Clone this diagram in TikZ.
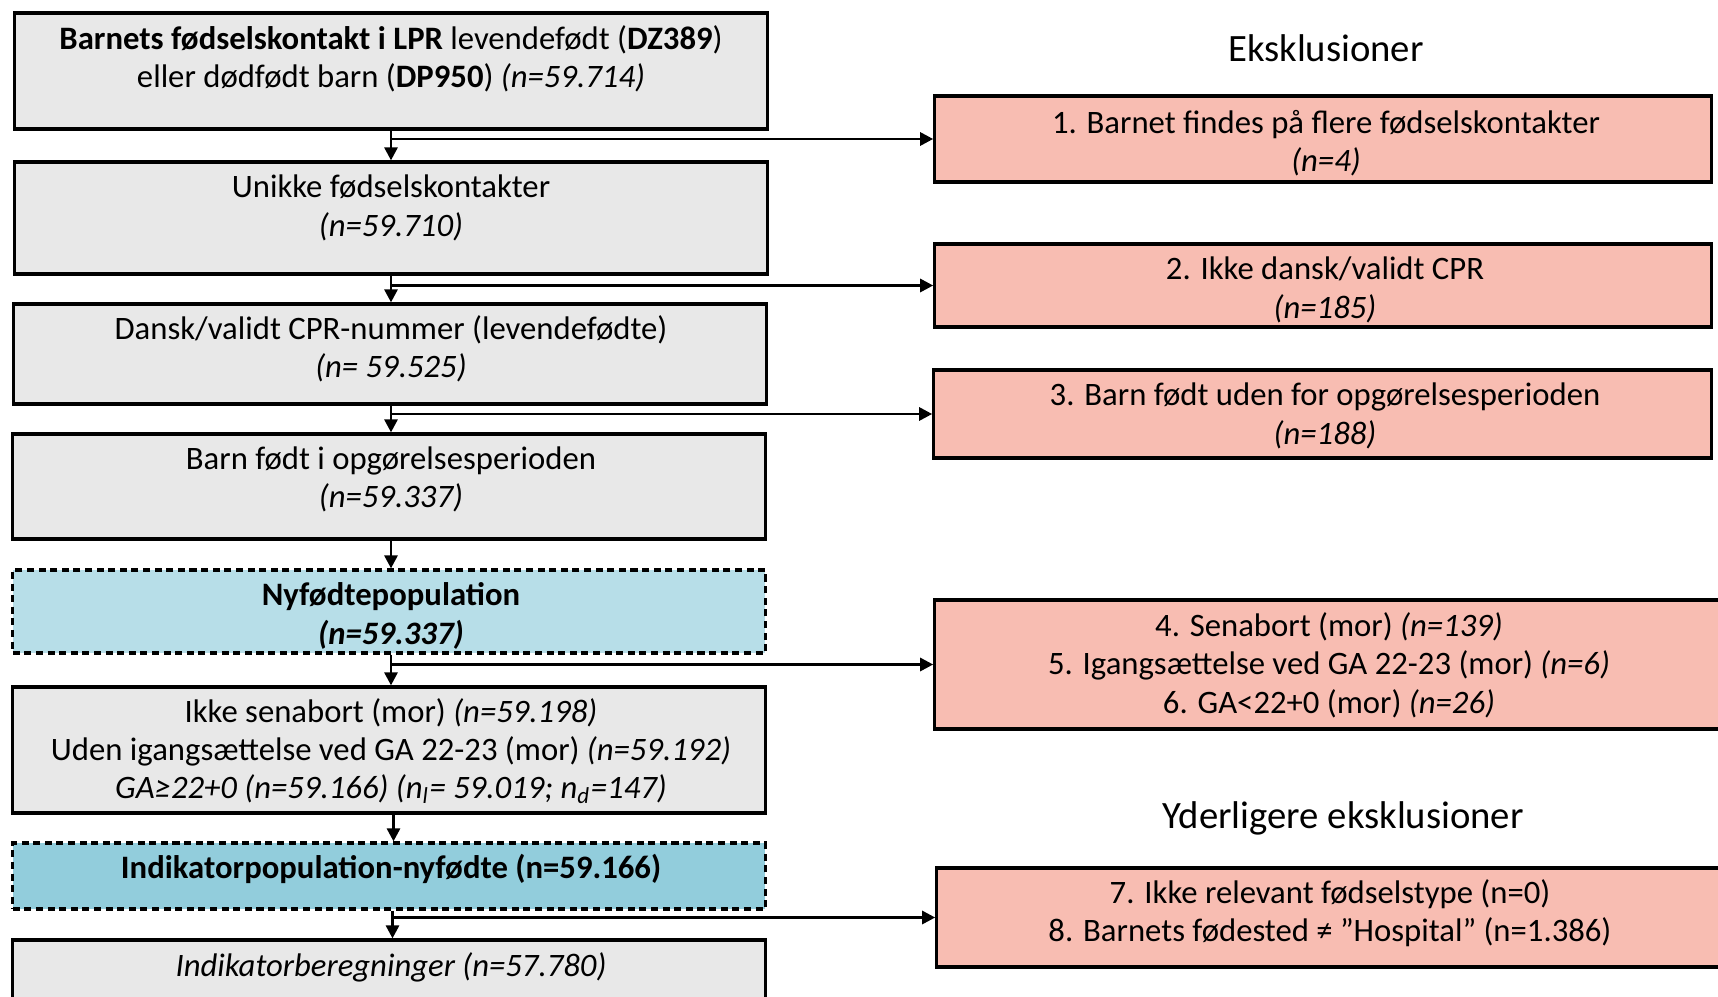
\documentclass[tikz,border=0pt]{standalone}
\usepackage{fontspec}
\setmainfont{Carlito}
\usetikzlibrary{arrows.meta}
\definecolor{boxgrey}{RGB}{232,232,232}
\definecolor{pinkx}{RGB}{248,189,178}
\definecolor{blueA}{RGB}{183,222,232}
\definecolor{blueB}{RGB}{146,205,220}
\begin{document}
\begin{tikzpicture}[x=0.01cm,y=-0.01cm,
  gbox/.style={draw, line width=0.9pt, fill=boxgrey, minimum width=7.52cm, inner sep=0pt},
  bbox/.style={draw, line width=0.9pt, dash pattern=on 2pt off 1.3pt, minimum width=7.52cm, inner sep=0pt},
  pbox/.style={draw, line width=0.9pt, fill=pinkx, inner sep=0pt},
  txt/.style={align=center, inner sep=0pt, font=\fontsize{9.3}{10.9}\selectfont},
  ttl/.style={inner sep=0pt, font=\fontsize{11}{12}\selectfont},
  arr/.style={-{Triangle[length=1.3mm,width=1.3mm]}, line width=0.8pt},
  ln/.style={line width=0.8pt}]
\clip (0,0) rectangle (1718,997);
\fill[white] (0,0) rectangle (1718,997);

% left column boxes
\node[gbox, minimum height=1.16cm] (b1) at (391,71) {};
\node[gbox, minimum height=1.12cm] (b2) at (391,218) {};
\node[gbox, minimum height=1.00cm] (b3) at (390,354) {};
\node[gbox, minimum height=1.05cm] (b4) at (389,486.5) {};
\node[bbox, fill=blueA, minimum height=0.83cm] (b5) at (389,611.5) {};
\node[gbox, minimum height=1.26cm] (b6) at (389,750) {};
\node[bbox, fill=blueB, minimum height=0.66cm] (b7) at (389,876) {};
\node[gbox, minimum height=0.70cm] (b8) at (389,975) {};

\node[txt] (t1) at (391,59) {\textbf{Barnets fødselskontakt i LPR} levendefødt (\textbf{DZ389})\\eller dødfødt barn (\textbf{DP950}) \textit{(n=59.714)}};
\node[txt] (t2) at (391,208) {Unikke fødselskontakter\\\textit{(n=59.710)}};
\node[txt] (t3) at (391,349) {Dansk/validt CPR-nummer (levendefødte)\\\textit{(n= 59.525)}};
\node[txt] (t4) at (391,479.5) {Barn født i opgørelsesperioden\\\textit{(n=59.337)}};
\node[txt, font=\fontsize{9.3}{10.9}\selectfont\bfseries] (t5) at (391,616) {Nyfødtepopulation\\\textit{(n=59.337)}};
\node[txt] (t6) at (391,751) {Ikke senabort (mor) \textit{(n=59.198)}\\Uden igangsættelse ved GA 22-23 (mor) \textit{(n=59.192)}\\\textit{GA≥22+0 (n=59.166) (n\textsubscript{l}= 59.019; n\textsubscript{d}=147)}};
\node[txt, font=\fontsize{9.3}{10.9}\selectfont\bfseries] (t7) at (391,869) {Indikatorpopulation-nyfødte (n=59.166)};
\node[txt] (t8) at (391,967.5) {\textit{Indikatorberegninger (n=57.780)}};

% right column
\node[ttl] (h1) at (1326,48) {Eksklusioner};
\node[ttl] (h2) at (1343,818.5) {Yderligere eksklusioner};

\node[pbox, minimum width=7.76cm, minimum height=0.86cm] (r1) at (1323,139) {};
\node[pbox, minimum width=7.76cm, minimum height=0.83cm] (r2) at (1323,285.5) {};
\node[pbox, minimum width=7.77cm, minimum height=0.88cm] (r3) at (1322.5,414) {};
\node[pbox, minimum width=7.95cm, minimum height=1.29cm] (r4) at (1332.5,664.5) {};
\node[pbox, minimum width=7.93cm, minimum height=0.99cm] (r5) at (1333.5,917.5) {};

\node[txt] (u1) at (1326,143) {1. Barnet findes på flere fødselskontakter\\\textit{(n=4)}};
\node[txt] (u2) at (1325,290) {2. Ikke dansk/validt CPR\\\textit{(n=185)}};
\node[txt] (u3) at (1325,416) {3. Barn født uden for opgørelsesperioden\\\textit{(n=188)}};
\node[txt] (u4) at (1329,665) {4. Senabort (mor) \textit{(n=139)}\\5. Igangsættelse ved GA 22-23 (mor) \textit{(n=6)}\\6. GA<22+0 (mor) \textit{(n=26)}};
\node[txt] (u5) at (1330,913) {7. Ikke relevant fødselstype (n=0)\\8. Barnets fødested ≠ ”Hospital” (n=1.386)};

% trunk arrows
\draw[arr] (b1.south) -- (b2.north);
\draw[arr] (b2.south) -- (b3.north -| b2.south);
\draw[arr] (b3.south -| b2.south) -- (b4.north -| b2.south);
\draw[arr] (b4.south -| b2.south) -- (b5.north -| b2.south);
\draw[arr] (b5.south -| b2.south) -- (b6.north -| b2.south);
\coordinate (k6) at ([xshift=0.045cm]b6.south);
\draw[arr] (k6) -- (k6 |- b7.north);
\coordinate (k7) at ([xshift=0.035cm]b7.south);
\draw[arr] (k7) -- (k7 |- b8.north);

% branches
\coordinate (j1) at (b2.south |- r1.west);
\coordinate (j2) at (b2.south |- r2.west);
\coordinate (j3) at (b2.south |- r3.west);
\coordinate (j4) at (b2.south |- r4.west);
\coordinate (j5) at (k7 |- r5.west);
\draw[arr] (j1) -- (r1.west);
\draw[arr] (j2) -- (r2.west);
\draw[arr] (j3) -- (r3.west);
\draw[arr] (j4) -- (r4.west);
\draw[arr] (j5) -- (r5.west);
\end{tikzpicture}
\end{document}
